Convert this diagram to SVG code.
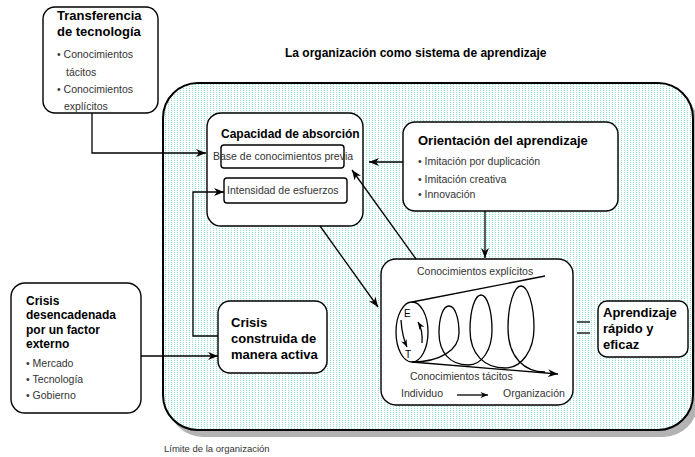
<svg xmlns="http://www.w3.org/2000/svg" width="695" height="457" viewBox="0 0 695 457">
<style>
text{font-family:"Liberation Sans",Arial,sans-serif;fill:#000}
.b{font-weight:bold}
.t13{font-size:13px}
.t12{font-size:12px}
.s{font-size:10.5px;fill:#333}
.box{fill:#fff;stroke:#000;stroke-width:1.4}
.ln{fill:none;stroke:#000;stroke-width:1.3}
</style>
<defs>
<pattern id="dots" width="3" height="2" patternUnits="userSpaceOnUse">
<rect width="3" height="2" fill="#fff"/>
<rect x="0" y="0" width="1" height="1" fill="#8fe2cd"/>
</pattern>
<marker id="ah" viewBox="0 0 10 8" refX="10" refY="4" markerWidth="10" markerHeight="8" markerUnits="userSpaceOnUse" orient="auto">
<path d="M0,0 L10,4 L0,8 L3,4 Z" fill="#000"/>
</marker>
<marker id="ahs" viewBox="0 0 10 8" refX="10" refY="4" markerWidth="8" markerHeight="6" markerUnits="userSpaceOnUse" orient="auto">
<path d="M0,0 L10,4 L0,8 L3,4 Z" fill="#000"/>
</marker>
</defs>

<g id="limite">
<rect x="168" y="90" width="530" height="347" rx="35" fill="#b3b3b3"/>
<rect x="163" y="83" width="530" height="347" rx="35" fill="url(#dots)" stroke="#000" stroke-width="2"/>
<text x="164" y="452" style="font-size:9.5px;fill:#333">Límite de la organización</text>
</g>

<text x="285" y="57" class="b t12">La organización como sistema de aprendizaje</text>

<g id="transferencia">
<rect x="43" y="7" width="115" height="106" rx="12" class="box"/>
<text x="57" y="20" class="b t13">Transferencia</text>
<text x="57" y="36" class="b t13">de tecnología</text>
<text x="57" y="58" class="s">• Conocimientos</text>
<text x="66" y="76" class="s">tácitos</text>
<text x="57" y="93" class="s">• Conocimientos</text>
<text x="64" y="110" class="s">explícitos</text>
</g>

<g id="capacidad">
<rect x="207" y="113" width="156" height="113" rx="14" class="box"/>
<text x="221" y="138" class="b t12">Capacidad de absorción</text>
</g>
<g id="base">
<rect x="221" y="145" width="123" height="23" rx="3" class="box"/>
<text x="213" y="160" class="s">Base de conocimientos previa</text>
</g>
<g id="intensidad">
<rect x="224" y="178" width="123" height="25" rx="3" class="box"/>
<text x="227" y="194" class="s">Intensidad de esfuerzos</text>
</g>

<g id="orientacion">
<rect x="403" y="122" width="215" height="89" rx="12" class="box"/>
<text x="418" y="145" class="b t13">Orientación del aprendizaje</text>
<text x="418" y="165" class="s">• Imitación por duplicación</text>
<text x="418" y="183" class="s">• Imitación creativa</text>
<text x="418" y="198" class="s">• Innovación</text>
</g>

<g id="crisis-externa">
<rect x="11" y="283" width="130" height="130" rx="14" class="box"/>
<text x="26" y="305" class="b t12">Crisis</text>
<text x="26" y="319" class="b t12">desencadenada</text>
<text x="26" y="334" class="b t12">por un factor</text>
<text x="26" y="348" class="b t12">externo</text>
<text x="26" y="367" class="s">• Mercado</text>
<text x="26" y="383" class="s">• Tecnología</text>
<text x="26" y="399" class="s">• Gobierno</text>
</g>

<g id="crisis-activa">
<rect x="218" y="301" width="109" height="72" rx="12" class="box"/>
<text x="231" y="327" class="b t13">Crisis</text>
<text x="231" y="343" class="b t13">construida de</text>
<text x="231" y="359" class="b t13">manera activa</text>
</g>

<g id="seci">
<rect x="381" y="259" width="192" height="146" rx="15" class="box"/>
<text x="417" y="275" class="s">Conocimientos explícitos</text>
<line x1="412" y1="302" x2="545" y2="276" class="ln"/>
<ellipse cx="412" cy="332" rx="16" ry="30" class="ln"/>
<line x1="412" y1="362" x2="558" y2="374" class="ln" marker-end="url(#ah)"/>
<path class="ln" d="M412 362 C440 362 459 350 459 333 C459 318 455 306 449 306 C443 306 439 318 439 333 C439 352 450 365 468 365 C482 365 492 350 492 330 C492 310 487 295 481 295 C475 295 470 310 470 330 C470 355 485 368 505 368 C522 368 534 350 534 328 C534 305 528 286 521 286 C514 286 508 305 508 328 C508 358 525 372 545 372"/>
<text x="404" y="317" style="font-size:10px">E</text>
<text x="405" y="358" style="font-size:10px">T</text>
<path class="ln" d="M401 320 Q402 336 407 347" marker-end="url(#ahs)"/>
<path class="ln" d="M422 343 Q423 330 418 322" marker-end="url(#ahs)"/>
<text x="410" y="380" class="s">Conocimientos tácitos</text>
<text x="401" y="397" class="s">Individuo</text>
<line x1="457" y1="395" x2="488" y2="395" class="ln" marker-end="url(#ahs)"/>
<text x="503" y="397" class="s">Organización</text>
</g>

<g id="aprendizaje">
<rect x="598" y="301" width="90" height="56" rx="9" class="box"/>
<text x="603" y="317" class="b t13">Aprendizaje</text>
<text x="603" y="333" class="b t13">rápido y</text>
<text x="603" y="349" class="b t13">eficaz</text>
</g>

<g id="connectors">
<polyline points="92,113 92,153 206,153" class="ln" marker-end="url(#ah)"/>
<line x1="403" y1="162" x2="369" y2="162" class="ln" marker-end="url(#ah)"/>
<polyline points="218,336 193,336 193,192 224,192" class="ln" marker-end="url(#ah)"/>
<line x1="141" y1="356" x2="218" y2="356" class="ln" marker-end="url(#ah)"/>
<line x1="485" y1="211" x2="485" y2="258" class="ln" marker-end="url(#ah)"/>
<line x1="320" y1="226" x2="378" y2="307" class="ln" marker-end="url(#ah)"/>
<line x1="416" y1="259" x2="352" y2="170" class="ln" marker-end="url(#ah)"/>
<line x1="577" y1="322" x2="590" y2="322" class="ln"/>
<line x1="577" y1="333" x2="590" y2="333" class="ln"/>
</g>
</svg>
